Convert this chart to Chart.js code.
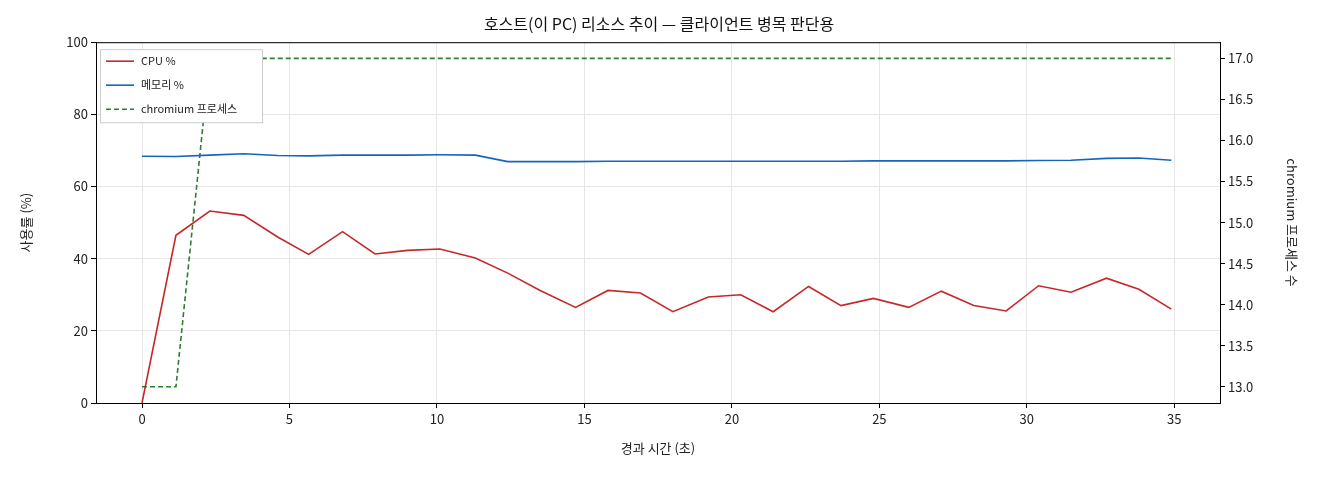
<!DOCTYPE html>
<html>
<head>
<meta charset="utf-8">
<script src="https://cdn.jsdelivr.net/npm/chart.js@4"></script>
<style>
  html, body { margin: 0; padding: 0; background: #fff; }
  #wrap { width: 1320px; height: 480px; }
</style>
</head>
<body>
<div id="wrap"><canvas id="hostChart"></canvas></div>
<script>
const FONT = "'Noto Sans CJK KR', 'Noto Sans', sans-serif";

// elapsed time (s)
const times = [0, 1.15, 2.3, 3.45, 4.6, 5.65, 6.8, 7.9, 9.0, 10.1, 11.3, 12.4, 13.5, 14.7, 15.8, 16.9,
  18.0, 19.2, 20.3, 21.4, 22.6, 23.7, 24.8, 26.0, 27.1, 28.2, 29.3, 30.4, 31.5, 32.7, 33.8, 34.9];
const cpuPct = [0, 46.5, 53.2, 52.0, 46.0, 41.2, 47.5, 41.3, 42.3, 42.7, 40.2, 36.0, 31.2, 26.5, 31.2, 30.5,
  25.3, 29.4, 30.0, 25.3, 32.3, 27.0, 29.0, 26.5, 31.0, 27.0, 25.5, 32.5, 30.7, 34.6, 31.5, 26.0];
const memPct = [68.4, 68.3, 68.7, 69.1, 68.6, 68.5, 68.7, 68.7, 68.7, 68.8, 68.7, 66.9, 66.9, 66.9, 67.0, 67.0,
  67.0, 67.0, 67.0, 67.0, 67.0, 67.0, 67.1, 67.1, 67.1, 67.1, 67.1, 67.2, 67.3, 67.8, 67.9, 67.3];
const chromiumCount = [13, 13, 17, 17, 17, 17, 17, 17, 17, 17, 17, 17, 17, 17, 17, 17,
  17, 17, 17, 17, 17, 17, 17, 17, 17, 17, 17, 17, 17, 17, 17, 17];

const legendItems = [
  { label: 'CPU %', color: '#c62828', dash: [] },
  { label: '메모리 %', color: '#1565c0', dash: [] },
  { label: 'chromium 프로세스', color: '#2e7d32', dash: [5, 3] }
];

function pts(ys) { return times.map((t, i) => ({ x: t, y: ys[i] })); }

// frame + legend box in the top-left of the plot
const framePlugin = {
  id: 'frame',
  afterDraw(chart) {
    const { ctx, chartArea: a } = chart;
    ctx.save();
    ctx.strokeStyle = '#000';
    ctx.lineWidth = 1;
    ctx.strokeRect(a.left + 0.5, a.top + 0.5, a.right - a.left, a.bottom - a.top);
    const x = a.left + 4, y = a.top + 7, w = 162, h = 73;
    ctx.fillStyle = '#fff';
    ctx.strokeStyle = '#ccc';
    ctx.fillRect(x, y, w, h);
    ctx.strokeRect(x + 0.5, y + 0.5, w, h);
    ctx.font = '11px ' + FONT;
    ctx.textBaseline = 'middle';
    legendItems.forEach((it, i) => {
      const ly = y + 12 + i * 24;
      ctx.strokeStyle = it.color;
      ctx.lineWidth = 1.6;
      ctx.setLineDash(it.dash);
      ctx.beginPath();
      ctx.moveTo(x + 6, ly);
      ctx.lineTo(x + 34, ly);
      ctx.stroke();
      ctx.setLineDash([]);
      ctx.fillStyle = '#222';
      ctx.fillText(it.label, x + 41, ly);
    });
    ctx.restore();
  }
};

new Chart(document.getElementById('hostChart'), {
  type: 'line',
  data: {
    datasets: [
      { label: 'CPU %', data: pts(cpuPct), borderColor: '#c62828', borderWidth: 1.6, yAxisID: 'y' },
      { label: '메모리 %', data: pts(memPct), borderColor: '#1565c0', borderWidth: 1.6, yAxisID: 'y' },
      { label: 'chromium 프로세스', data: pts(chromiumCount), borderColor: '#2e7d32', borderWidth: 1.6,
        borderDash: [5, 3], yAxisID: 'y1' }
    ]
  },
  options: {
    responsive: true,
    maintainAspectRatio: false,
    animation: false,
    elements: { point: { radius: 0 }, line: { tension: 0 } },
    layout: { padding: { left: 14, right: 16, top: 0, bottom: 20 } },
    plugins: {
      legend: { display: false },
      tooltip: { enabled: false },
      title: {
        display: true,
        text: '호스트(이 PC) 리소스 추이 — 클라이언트 병목 판단용',
        color: '#111',
        font: { family: FONT, size: 16, weight: 'normal' },
        padding: { top: 14, bottom: 9 }
      }
    },
    scales: {
      x: {
        type: 'linear', min: -1.56, max: 36.55,
        afterFit(s) { s.height = 57; },
        afterBuildTicks(s) { s.ticks = [0, 5, 10, 15, 20, 25, 30, 35].map(v => ({ value: v })); },
        grid: { color: '#e6e6e6', tickColor: '#000', tickLength: 5 },
        border: { color: '#000' },
        ticks: { color: '#222', font: { family: FONT, size: 13 } },
        title: { display: true, text: '경과 시간 (초)', color: '#222', font: { family: FONT, size: 13 } }
      },
      y: {
        position: 'left', min: 0, max: 100,
        afterFit(s) { s.width = 82; },
        grid: { color: '#e6e6e6', tickColor: '#000', tickLength: 5 },
        border: { color: '#000' },
        ticks: { stepSize: 20, color: '#222', font: { family: FONT, size: 13 } },
        title: { display: true, text: '사용률 (%)', color: '#222', font: { family: FONT, size: 13 } }
      },
      y1: {
        position: 'right', min: 12.803, max: 17.197,
        afterFit(s) { s.width = 84; },
        afterBuildTicks(s) { s.ticks = [13, 13.5, 14, 14.5, 15, 15.5, 16, 16.5, 17].map(v => ({ value: v })); },
        grid: { drawOnChartArea: false, tickColor: '#000', tickLength: 5 },
        border: { color: '#000' },
        ticks: { color: '#222', font: { family: FONT, size: 13 }, callback: v => v.toFixed(1) },
        title: { display: true, text: 'chromium 프로세스 수', color: '#222', font: { family: FONT, size: 13 } }
      }
    }
  },
  plugins: [framePlugin]
});
</script>
</body>
</html>
